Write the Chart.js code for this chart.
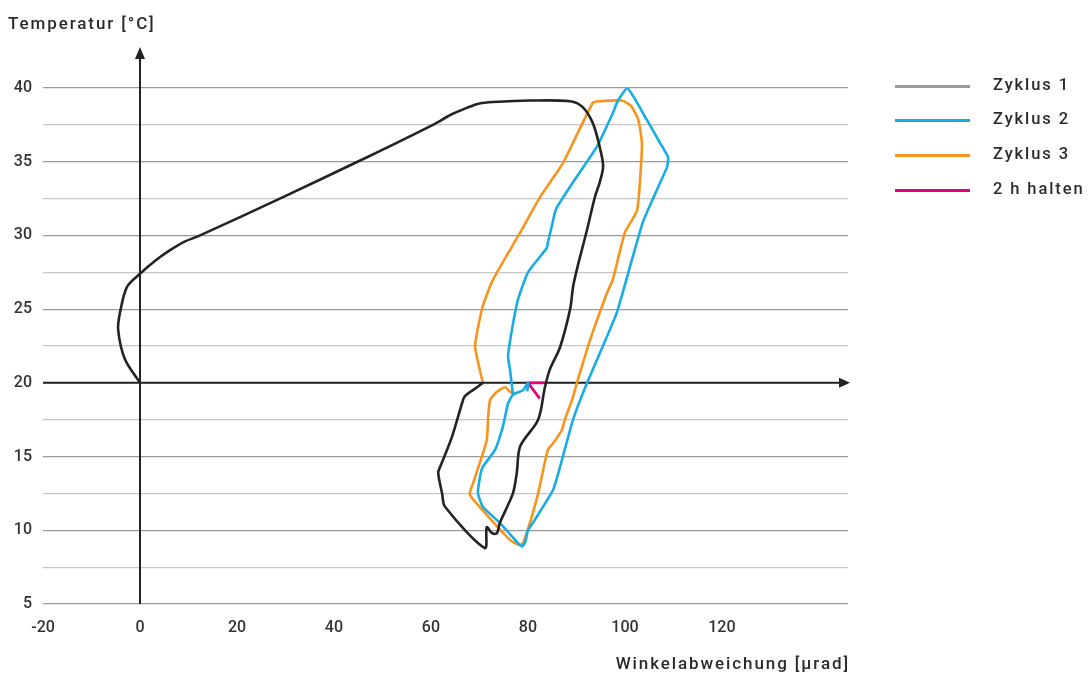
<!DOCTYPE html>
<html>
<head>
<meta charset="utf-8">
<script src="https://cdn.jsdelivr.net/npm/chart.js@4.4.1/dist/chart.umd.min.js"></script>
<style>
  html, body { margin: 0; padding: 0; background: #fff; }
  #wrap { position: relative; width: 1088px; height: 675px; font-family: Roboto, "Liberation Sans", sans-serif; color: #2b2b2b; }
  #chart { position: absolute; left: 0; top: 0; }
  .axis-title { position: absolute; font-size: 17px; font-weight: 500; letter-spacing: 1.9px; white-space: nowrap; }
  #ytitle { left: 8px; top: 13px; }
  #xtitle { right: 238px; top: 653px; }
  .leg { position: absolute; left: 895px; width: 200px; height: 20px; }
  .leg span.line { position: absolute; left: 0; top: 9px; width: 75px; height: 3px; }
  .leg span.txt { position: absolute; left: 98px; top: -1px; font-size: 16.5px; font-weight: 500; letter-spacing: 1.9px; white-space: nowrap; }
</style>
</head>
<body>
<div id="wrap">
  <canvas id="chart" width="1088" height="675"></canvas>
  <div class="axis-title" id="ytitle">Temperatur [°C]</div>
  <div class="axis-title" id="xtitle">Winkelabweichung [µrad]</div>
  <div id="legend"></div>
</div>
<script>
// Zyklus 1 (black loop)
const zyklus1X = [0, -3.1, -4.5, -4.1, -2.7, 0, 3.2, 6.2, 9.0, 12.4, 29.5, 46.8, 60.4, 64.2, 67.4, 70.0, 72.8, 80.4, 88.7, 91.3, 93.4, 94.8, 95.5, 94.8, 93.8, 92.2, 90.1, 89.3, 88.7, 86.6, 84.5, 83.5, 82.1, 78.4, 77.7, 76.9, 74.2, 73.6, 72.6, 71.5, 71.1, 62.9, 62.3, 61.5, 61.9, 64.3, 66.4, 67.0, 69.5, 70.7];
const zyklus1Y = [20, 21.6, 23.6, 24.8, 26.5, 27.4, 28.3, 29.0, 29.55, 30.0, 32.6, 35.3, 37.5, 38.2, 38.65, 38.95, 39.05, 39.15, 39.1, 38.7, 37.6, 36.0, 34.7, 33.6, 32.6, 30.4, 27.7, 26.5, 25.0, 22.4, 20.9, 19.7, 17.5, 15.7, 13.9, 12.5, 10.5, 9.8, 9.8, 10.2, 8.8, 11.6, 12.5, 13.9, 14.3, 16.3, 18.6, 19.1, 19.7, 20.0];

// Zyklus 2 (blue loop)
const zyklus2X = [76.9, 76.3, 75.9, 76.7, 77.9, 80.0, 83.9, 84.1, 84.9, 85.8, 90.1, 94.2, 97.5, 98.5, 100.5, 104.5, 107.2, 108.9, 108.7, 103.7, 98.3, 92.2, 89.3, 87.2, 85.2, 81.0, 80.0, 79.4, 78.8, 77.9, 74.2, 70.7, 69.7, 70.1, 70.7, 73.2, 74.8, 75.9, 76.9, 79.0, 80.0, 79.9];
const zyklus2Y = [19.2, 20.9, 21.8, 23.6, 25.6, 27.5, 29.15, 29.5, 30.6, 31.8, 34.0, 36.0, 38.3, 39.1, 40.0, 37.85, 36.3, 35.3, 34.65, 30.9, 24.75, 20.0, 17.5, 15.0, 12.75, 10.5, 10.0, 9.15, 8.9, 9.15, 10.5, 11.6, 12.5, 13.6, 14.3, 15.45, 17.0, 18.6, 19.2, 19.5, 20.0, 19.5];

// Zyklus 3 (orange loop)
const zyklus3X = [70.7, 69.1, 69.5, 70.7, 72.8, 78.4, 82.5, 87.2, 93.4, 94.8, 99.3, 101.2, 102.7, 103.5, 103.3, 102.5, 100.0, 97.5, 96.3, 92.8, 90.1, 89.1, 87.6, 87.0, 85.2, 84.1, 82.1, 80.4, 79.0, 78.2, 76.3, 68.7, 68.0, 68.7, 70.1, 71.5, 71.8, 72.2, 73.6, 75.3, 76.3, 76.9];
const zyklus3Y = [20, 22.4, 23.4, 25.2, 27.0, 30.2, 32.6, 34.9, 39.0, 39.1, 39.15, 38.8, 37.9, 36.3, 34.7, 31.7, 30.2, 27.0, 26.1, 22.9, 20.0, 18.85, 17.5, 16.8, 15.9, 15.45, 12.5, 10.5, 9.15, 9.0, 9.35, 12.1, 12.5, 13.2, 14.6, 16.1, 17.7, 18.85, 19.4, 19.7, 19.4, 19.3];

// 2 h halten (magenta)
const haltenX = [83.5, 80.0, 82.3];
const haltenY = [20, 20, 19.0];

const xTickValues = [-20, 0, 20, 40, 60, 80, 100, 120];
const seriesNames = ['Zyklus 1', 'Zyklus 2', 'Zyklus 3', '2 h halten'];
const seriesColors = ['#232323', '#17ade4', '#f7941d', '#e5007e'];
const legendColors = ['#9a9a9a', '#17ade4', '#f7941d', '#e5007e'];
const seriesTension = [0.3, 0.15, 0.2, 0];

function toPoints(xs, ys) {
    return xs.map((x, i) => ({ x: x, y: ys[i] }));
}

// Legend (HTML)
const legendEl = document.getElementById('legend');
const legendTops = [76, 110, 145, 180];
seriesNames.forEach((name, i) => {
    const item = document.createElement('div');
    item.className = 'leg';
    item.style.top = legendTops[i] + 'px';
    item.innerHTML = '<span class="line" style="background:' + legendColors[i] + '"></span><span class="txt">' + name + '</span>';
    legendEl.appendChild(item);
});

// Axes with arrows at x = 0 and y = 20
const arrowAxes = {
    id: 'arrowAxes',
    beforeDatasetsDraw(chart) {
        const c = chart.ctx;
        const area = chart.chartArea;
        const xs = chart.scales.x, ys = chart.scales.y;
        const x0 = xs.getPixelForValue(0);
        const y20 = ys.getPixelForValue(20);
        const yBottom = ys.getPixelForValue(5);
        const tipX = area.right + 2;
        const tipY = area.top - 41;
        c.save();
        c.strokeStyle = '#222';
        c.fillStyle = '#222';
        c.lineWidth = 2;
        c.beginPath();
        c.moveTo(area.left, y20);
        c.lineTo(tipX - 8, y20);
        c.stroke();
        c.beginPath();
        c.moveTo(tipX, y20);
        c.lineTo(tipX - 11, y20 - 5);
        c.lineTo(tipX - 11, y20 + 5);
        c.closePath();
        c.fill();
        c.beginPath();
        c.moveTo(x0, yBottom);
        c.lineTo(x0, tipY + 8);
        c.stroke();
        c.beginPath();
        c.moveTo(x0, tipY);
        c.lineTo(x0 - 5, tipY + 12);
        c.lineTo(x0 + 5, tipY + 12);
        c.closePath();
        c.fill();
        c.restore();
    }
};

const tickFont = { family: 'Roboto, "Liberation Sans", sans-serif', size: 16, weight: '500' };

new Chart(document.getElementById('chart').getContext('2d'), {
    type: 'scatter',
    data: {
        datasets: [
            { label: seriesNames[0], data: toPoints(zyklus1X, zyklus1Y) },
            { label: seriesNames[1], data: toPoints(zyklus2X, zyklus2Y) },
            { label: seriesNames[2], data: toPoints(zyklus3X, zyklus3Y) },
            { label: seriesNames[3], data: toPoints(haltenX, haltenY) }
        ].map((d, i) => Object.assign({
            showLine: true, pointRadius: 0, fill: false,
            borderColor: seriesColors[i], borderWidth: 2.6, tension: seriesTension[i],
            borderJoinStyle: 'round', borderCapStyle: 'round'
        }, d))
    },
    options: {
        responsive: false,
        animation: false,
        layout: { padding: { top: 88, right: 240, left: 0, bottom: 0 } },
        plugins: { legend: { display: false }, tooltip: { enabled: false } },
        scales: {
            x: {
                type: 'linear',
                min: -20,
                max: 146,
                afterFit(s) { s.height = 71; },
                afterBuildTicks(s) { s.ticks = xTickValues.map(v => ({ value: v })); },
                grid: { display: false },
                border: { display: false },
                ticks: { padding: 6, color: '#333', font: tickFont, maxRotation: 0, autoSkip: false }
            },
            y: {
                type: 'linear',
                min: 5,
                max: 40,
                afterFit(s) { s.width = 43; },
                grid: {
                    drawTicks: false,
                    lineWidth: 1.2,
                    color: ctx => (ctx.tick && ctx.tick.value % 5 === 0) ? '#9a9a9a' : '#c6c6c6'
                },
                border: { display: false },
                ticks: {
                    stepSize: 2.5,
                    padding: 11,
                    color: '#333',
                    font: tickFont,
                    callback: v => (v % 5 === 0 ? v : '')
                }
            }
        }
    },
    plugins: [arrowAxes]
});
</script>
</body>
</html>
